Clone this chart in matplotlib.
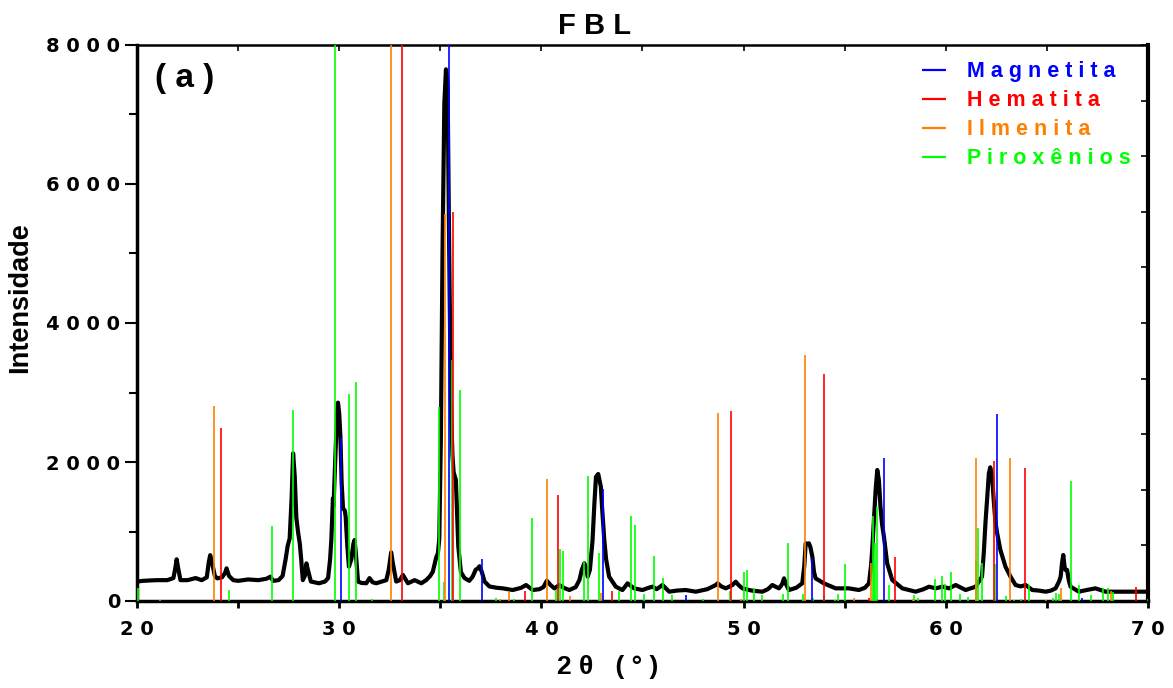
import matplotlib
matplotlib.use("Agg")
import matplotlib.pyplot as plt

scan = [
    (20.0, 280), (20.3, 290), (20.6, 295), (21.0, 300), (21.5, 300), (21.8, 330),
    (21.9, 480), (21.96, 600), (22.05, 450), (22.15, 300), (22.5, 300), (22.9, 330),
    (23.2, 300), (23.45, 340), (23.55, 560), (23.62, 660), (23.72, 540), (23.85, 360),
    (23.97, 326), (24.2, 340), (24.35, 400), (24.43, 470), (24.55, 360), (24.76, 300),
    (25.0, 290), (25.5, 310), (26.0, 300), (26.4, 320), (26.6, 350), (26.73, 290),
    (27.0, 300), (27.2, 360), (27.35, 600), (27.45, 790), (27.55, 900), (27.65, 1500),
    (27.72, 2125), (27.8, 1800), (27.88, 1200), (27.97, 980), (28.05, 830), (28.12, 600),
    (28.2, 300), (28.3, 360), (28.38, 541), (28.45, 450), (28.6, 280), (29.0, 255),
    (29.3, 280), (29.45, 330), (29.55, 600), (29.61, 877), (29.69, 1477), (29.72, 1360),
    (29.8, 2000), (29.9, 2750), (29.94, 2854), (30.0, 2700), (30.06, 2364), (30.12, 1700),
    (30.19, 1333), (30.28, 1300), (30.32, 1213), (30.4, 800), (30.48, 494), (30.6, 600),
    (30.7, 820), (30.76, 877), (30.82, 700), (30.93, 280), (31.1, 260), (31.34, 255),
    (31.5, 330), (31.65, 270), (31.83, 255), (32.1, 280), (32.33, 300), (32.45, 450),
    (32.57, 700), (32.65, 550), (32.82, 280), (33.0, 300), (33.15, 375), (33.4, 255),
    (33.73, 300), (34.06, 255), (34.3, 300), (34.5, 360), (34.63, 422), (34.8, 630),
    (34.88, 686), (34.95, 892), (35.03, 2380), (35.11, 5036), (35.2, 7160), (35.28, 7650),
    (35.36, 7426), (35.44, 5036), (35.52, 2911), (35.6, 2100), (35.66, 1850), (35.77, 1742),
    (35.89, 786), (36.02, 414), (36.2, 330), (36.43, 290), (36.6, 350), (36.75, 450),
    (36.86, 470), (36.94, 500), (37.05, 420), (37.19, 280), (37.43, 209), (37.8, 190),
    (38.09, 182), (38.58, 158), (39.0, 190), (39.24, 230), (39.57, 158), (39.9, 170),
    (40.1, 200), (40.27, 292), (40.45, 230), (40.64, 182), (40.89, 230), (41.1, 190),
    (41.38, 158), (41.7, 200), (41.88, 302), (42.0, 450), (42.12, 542), (42.22, 480),
    (42.29, 350), (42.4, 450), (42.53, 877), (42.62, 1400), (42.7, 1789), (42.81, 1827),
    (42.94, 1645), (43.0, 1350), (43.11, 877), (43.2, 600), (43.35, 350), (43.68, 206),
    (44.01, 158), (44.26, 254), (44.58, 182), (45.0, 158), (45.3, 190), (45.5, 206),
    (45.7, 170), (45.99, 230), (46.32, 134), (46.7, 150), (47.14, 158), (47.64, 134),
    (48.2, 170), (48.63, 230), (48.71, 254), (48.9, 210), (49.12, 182), (49.45, 230),
    (49.61, 278), (49.75, 230), (49.94, 182), (50.4, 150), (50.93, 134), (51.2, 170),
    (51.42, 230), (51.75, 182), (51.9, 240), (52.0, 326), (52.1, 240), (52.24, 158),
    (52.6, 190), (52.9, 254), (53.0, 500), (53.07, 830), (53.15, 820), (53.23, 830),
    (53.3, 780), (53.4, 638), (53.48, 420), (53.56, 326), (53.97, 254), (54.55, 182),
    (55.21, 182), (55.7, 158), (56.0, 190), (56.2, 254), (56.3, 500), (56.36, 734),
    (56.45, 1200), (56.53, 1597), (56.61, 1885), (56.69, 1741), (56.77, 1357), (56.85, 1100),
    (56.94, 926), (57.1, 542), (57.35, 302), (57.85, 182), (58.51, 134), (58.9, 170),
    (59.17, 206), (59.5, 182), (59.83, 206), (60.16, 182), (60.49, 230), (60.98, 158),
    (61.48, 206), (61.63, 278), (61.79, 350), (61.88, 700), (61.96, 1117), (62.05, 1500),
    (62.13, 1837), (62.2, 1923), (62.29, 1789), (62.37, 1453), (62.45, 1150), (62.54, 974),
    (62.7, 734), (62.95, 494), (63.2, 350), (63.45, 230), (63.7, 210), (63.95, 230),
    (64.28, 158), (64.6, 150), (64.94, 134), (65.2, 150), (65.43, 182), (65.6, 280),
    (65.68, 350), (65.75, 550), (65.81, 662), (65.87, 500), (65.92, 446), (66.0, 446),
    (66.08, 300), (66.17, 206), (66.58, 134), (67.0, 160), (67.4, 182), (67.9, 134),
    (68.56, 134), (69.22, 134), (70.0, 134),
]

# reference patterns (2theta position, stick height)
magnetita_x = [30.07, 35.44, 37.05, 43.06, 47.14, 53.40, 56.92, 62.52, 66.73]
magnetita_y = [2340, 8500, 600, 1610, 80, 620, 2060, 2690, 40]

hematita_x = [24.15, 33.13, 35.61, 39.21, 40.83, 43.49, 49.40, 53.98, 56.20,
              57.48, 62.36, 63.92, 69.43]
hematita_y = [2490, 8500, 5600, 150, 1520, 140, 2740, 3270, 40,
              640, 2010, 1920, 200]

ilmenita_x = [21.14, 23.82, 32.58, 35.24, 37.93, 38.39, 40.28, 41.42, 42.96, 48.71,
              49.86, 53.04, 55.46, 56.31, 58.37, 61.50, 63.19, 64.97, 65.69, 68.18]
ilmenita_y = [20, 2800, 8500, 5570, 30, 150, 1750, 70, 120, 2710,
              30, 3540, 50, 540, 30, 2060, 2055, 20, 185, 140]

piroxenios_x = [20.06, 24.53, 26.70, 27.70, 29.78, 30.47, 30.81, 31.62, 34.92, 35.16,
                35.57, 35.95, 37.74, 38.64, 39.52, 40.74, 40.90, 41.07, 42.09, 42.30,
                42.86, 43.85, 44.43, 44.64, 45.05, 45.55, 46.02, 46.46, 47.97, 49.32,
                50.00, 50.19, 50.52, 50.93, 51.95, 52.21, 52.96, 53.43, 54.00, 54.52,
                54.67, 55.00, 56.40, 56.45, 56.49, 56.61, 57.19, 58.42, 58.64, 59.49,
                59.79, 59.95, 60.25, 60.72, 61.09, 61.47, 61.58, 61.79, 62.45, 62.98,
                63.39, 63.72, 64.10, 65.29, 65.45, 65.58, 66.18, 66.61, 67.17, 67.78,
                68.01, 68.26, 69.98]
piroxenios_y = [180, 160, 1085, 2750, 8500, 2980, 3150, 30, 2790, 280,
                3470, 3030, 40, 30, 1200, 160, 750, 720, 560, 1800,
                690, 140, 1220, 1095, 100, 650, 330, 90, 30, 145,
                420, 440, 180, 90, 100, 840, 100, 50, 90, 20,
                100, 530, 1230, 540, 830, 1350, 230, 80, 40, 310,
                360, 245, 420, 100, 60, 570, 1055, 540, 530, 72,
                20, 30, 230, 38, 110, 100, 1730, 230, 86, 192,
                182, 134, 30]

phases = ["Magnetita", "Hematita", "Ilmenita", "Piroxênios"]
phase_colors = ["#0000ff", "#ff0000", "#ff8000", "#00ff00"]

x_ticks = [20, 30, 40, 50, 60, 70]
y_ticks = [0, 2000, 4000, 6000, 8000]

BOLD = "Liberation Sans"
NUM = "DejaVu Sans"


def spaced(s):
    return " ".join(s)


fig = plt.figure(figsize=(11.73, 6.88), dpi=100)
ax = fig.add_axes([137 / 1173, 1 - 601 / 688, 1011 / 1173, 556 / 688])

sx = [p[0] for p in scan]
sy = [p[1] for p in scan]
ax.plot(sx, sy, color="black", lw=3.0, zorder=2)

sticks = {
    "Magnetita": (magnetita_x, magnetita_y),
    "Hematita": (hematita_x, hematita_y),
    "Ilmenita": (ilmenita_x, ilmenita_y),
    "Piroxênios": (piroxenios_x, piroxenios_y),
}
handles = {}
for name, col in reversed(list(zip(phases, phase_colors))):
    xs, ys = sticks[name]
    handles[name] = ax.vlines(xs, 0, ys, colors=col, lw=1.2, zorder=3)

ax.set_xlim(20, 70)
ax.set_ylim(0, 8000)

ax.set_xticks(x_ticks)
ax.set_xticklabels([spaced(str(v)) for v in x_ticks], fontfamily=NUM,
                   fontweight="bold", fontsize=14)
ax.set_xticks(range(25, 70, 10), minor=True)
ax.set_yticks(y_ticks)
ax.set_yticklabels([spaced(str(v)) for v in y_ticks], fontfamily=NUM,
                   fontweight="bold", fontsize=14)
ax.set_yticks(range(1000, 8000, 2000), minor=True)
ax.tick_params(axis="y", which="major", direction="out", length=9, width=1.5, pad=3)
ax.tick_params(axis="y", which="minor", direction="out", length=6, width=1.5)
ax.tick_params(axis="x", which="both", direction="out", length=5, width=2, pad=9)

# right axis with its own tick spacing, top axis with inner ticks
right = ax.secondary_yaxis("right")
right.set_yticks(range(0, 8001, 800))
right.tick_params(direction="in", length=5, width=1.2, labelright=False)
right.spines["right"].set_linewidth(3)
top = ax.secondary_xaxis("top")
top.set_xticks(range(20, 71, 5))
top.tick_params(direction="in", length=4, width=1.2, labeltop=False)
top.spines["top"].set_linewidth(1.8)

ax.spines["left"].set_linewidth(2.5)
ax.spines["bottom"].set_linewidth(2.5)
ax.spines["right"].set_visible(False)
ax.spines["top"].set_visible(False)

leg = ax.legend([handles[n] for n in phases], [spaced(n) for n in phases],
                loc="upper left", bbox_to_anchor=(0.766, 0.99), frameon=False,
                borderpad=0, handlelength=1.1, handletextpad=1.0, labelspacing=0.37,
                prop={"family": BOLD, "weight": "bold", "size": 15.5})
for txt, col in zip(leg.get_texts(), phase_colors):
    txt.set_color(col)
for h in leg.legend_handles:
    h.set_linewidth(1.6)

ax.text(0.018, 0.94, spaced("(a)"), transform=ax.transAxes, fontsize=24,
        fontweight="bold", family=BOLD, va="center", ha="left")

fig.text(595 / 1173, 1 - 26 / 688, spaced("FBL"), fontsize=21, fontweight="bold",
         family=BOLD, ha="center", va="center")
fig.text(608 / 1173, 1 - 667 / 688, "2 θ   ( ° )", fontsize=19, fontweight="bold",
         family=BOLD, ha="center", va="center")
fig.text(20 / 1173, 1 - 298 / 688, "Intensidade", fontsize=19.5, fontweight="bold",
         family=BOLD, ha="center", va="center", rotation=90)

fig.savefig("out.png", dpi=100, facecolor="white")
